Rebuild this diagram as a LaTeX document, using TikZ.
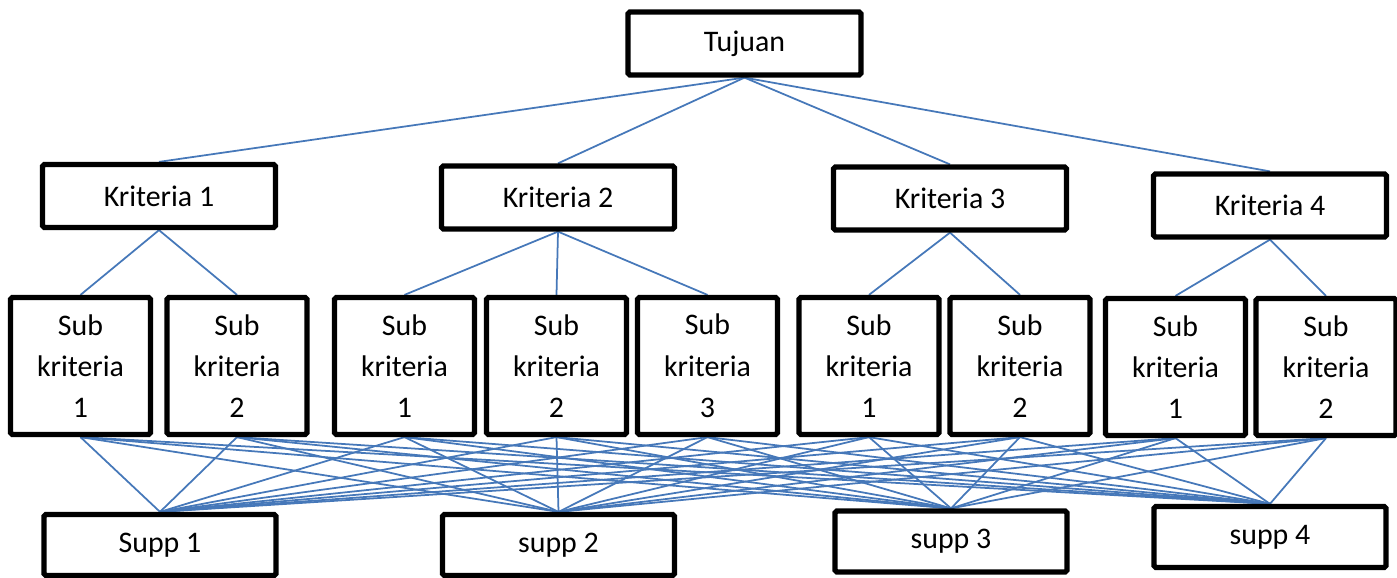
\documentclass[tikz,border=0pt]{standalone}
\usepackage{fontspec}
\setmainfont{Carlito}
\usetikzlibrary{positioning, backgrounds}
\definecolor{linkblue}{RGB}{70,120,185}
\tikzset{box/.style={draw, line width=3pt, rounded corners=1pt, fill=white, inner sep=0pt, align=center, font=\fontsize{17}{23.5}\selectfont}}
\tikzset{kbox/.style={box, minimum width=4.66cm, minimum height=1.26cm}}
\tikzset{pbox/.style={box, minimum width=4.64cm, minimum height=1.22cm}}
\tikzset{subbox/.style={box, minimum width=2.8cm, minimum height=2.74cm}}
\tikzset{link/.style={draw=linkblue, line width=1pt}}

\begin{document}
\begin{tikzpicture}[x=0.02cm, y=-0.02cm]
	\useasboundingbox (0,0) rectangle (1397,578);
	% goal
	\node[kbox] (goal) at (744.5,43.5) {Tujuan};
	% criteria
	\node[kbox] (k1) at (159,196) {Kriteria 1};
	\node[kbox] (k2) at (558,197.5) {Kriteria 2};
	\node[kbox] (k3) at (950,198.5) {Kriteria 3};
	\node[kbox] (k4) at (1270,205.5) {Kriteria 4};
	% sub criteria
	\node[subbox] (s11) at (80.5,366) {Sub\\kriteria\\1};
	\node[subbox] (s12) at (237,366) {Sub\\kriteria\\2};
	\node[subbox] (s21) at (404.5,366) {Sub\\kriteria\\1};
	\node[subbox] (s22) at (556.5,366) {Sub\\kriteria\\2};
	\node[subbox] (s23) at (707.5,366) {Sub\\kriteria\\3};
	\node[subbox] (s31) at (869,366) {Sub\\kriteria\\1};
	\node[subbox] (s32) at (1020,366) {Sub\\kriteria\\2};
	\node[subbox] (s41) at (1175.5,367) {Sub\\kriteria\\1};
	\node[subbox] (s42) at (1326,367) {Sub\\kriteria\\2};
	% suppliers
	\node[pbox] (p1) at (160,545) {Supp 1};
	\node[pbox] (p2) at (558.5,545) {supp 2};
	\node[pbox] (p3) at (951,541.5) {supp 3};
	\node[pbox] (p4) at (1270,537) {supp 4};
	%
	\begin{pgfonlayer}{background}
		\foreach \k in {k1,k2,k3,k4}
			\draw[link] (goal.south) -- (\k.north);
		\foreach \s in {s11,s12}
			\draw[link] (k1.south) -- (\s.north);
		\foreach \s in {s21,s22,s23}
			\draw[link] (k2.south) -- (\s.north);
		\foreach \s in {s31,s32}
			\draw[link] (k3.south) -- (\s.north);
		\foreach \s in {s41,s42}
			\draw[link] (k4.south) -- (\s.north);
		% every sub criterion to every supplier
		\foreach \s in {s11,s12,s21,s22,s23,s31,s32,s41,s42}
			\foreach \p in {p1,p2,p3,p4}
				\draw[link] (\s.south) -- (\p.north);
	\end{pgfonlayer}
\end{tikzpicture}
\end{document}
